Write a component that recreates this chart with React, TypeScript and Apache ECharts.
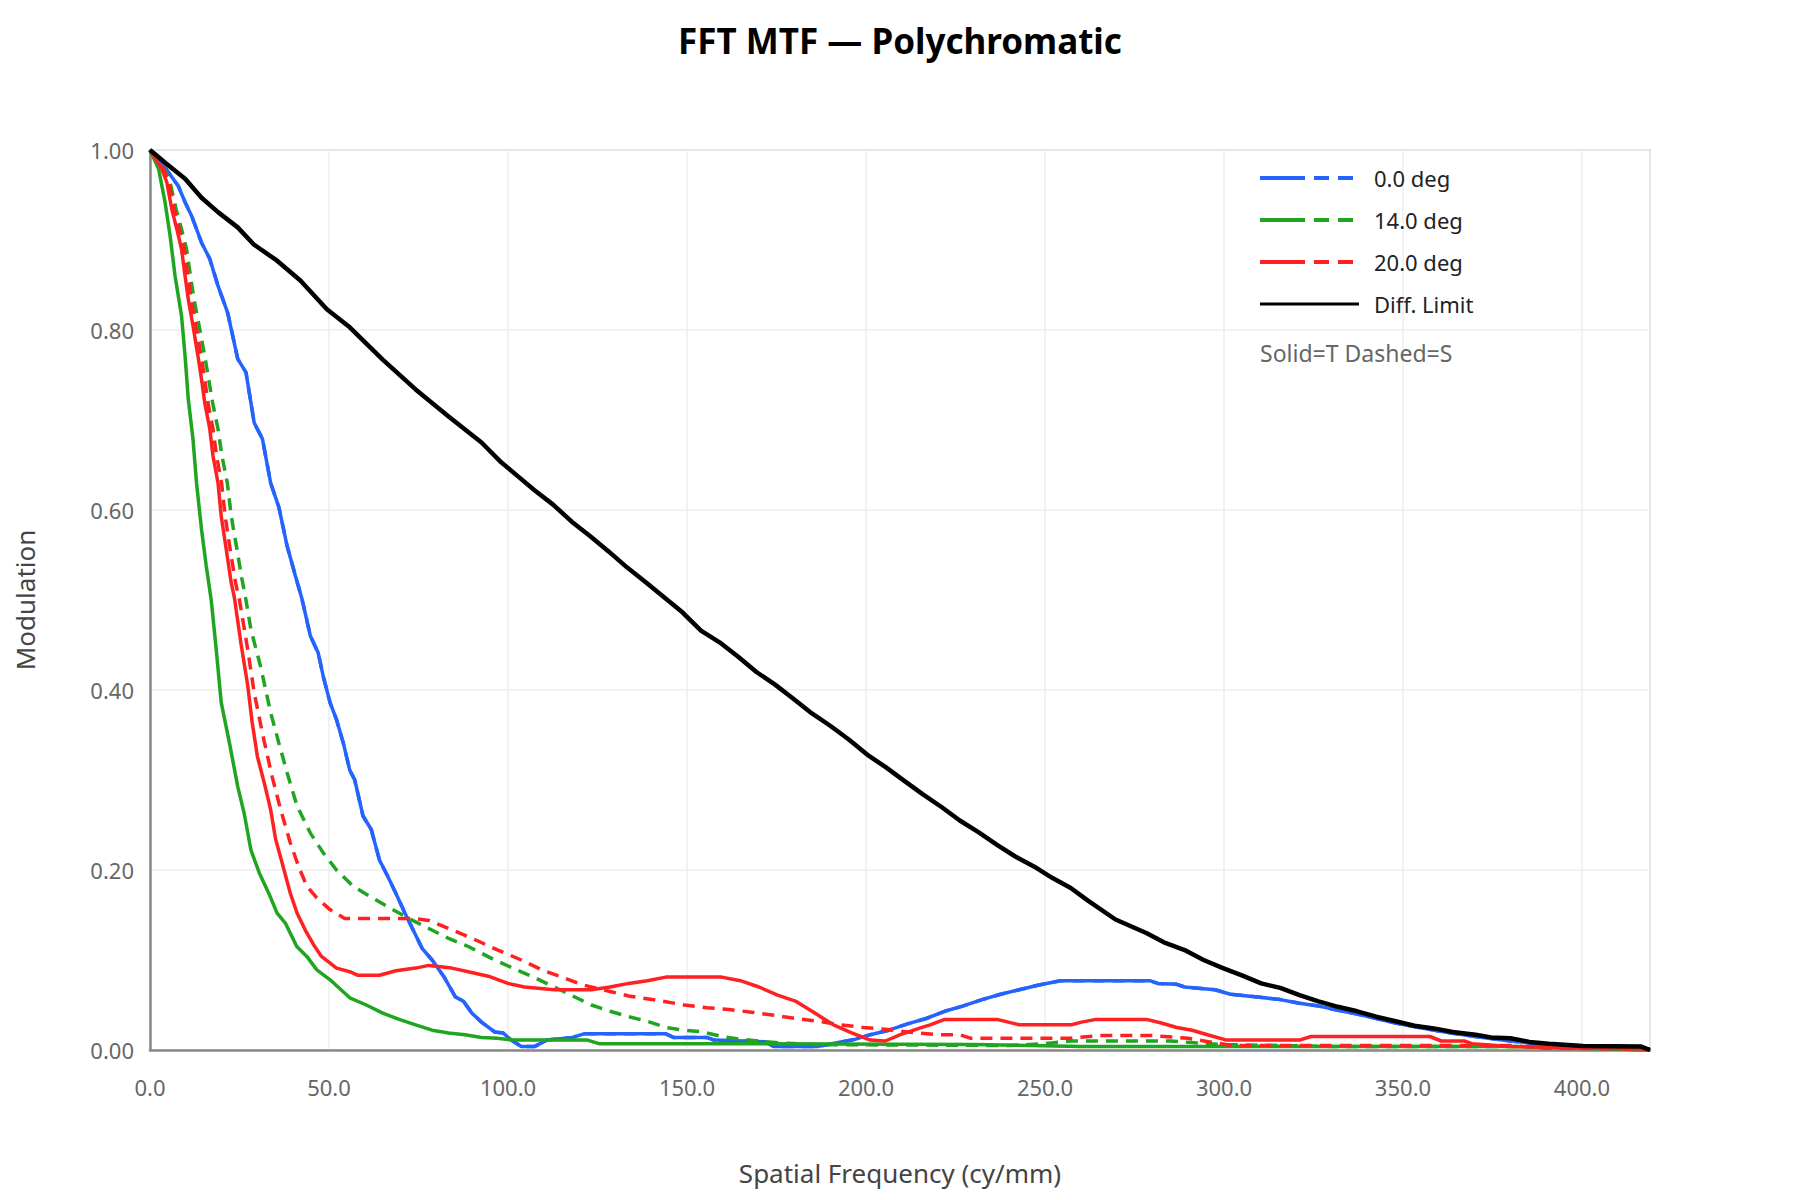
import React, { useEffect, useRef } from "react";
import * as echarts from "echarts";

// MTF samples: [spatial frequency (cy/mm), modulation]
const diffLimit: [number, number][] = [
  [0, 1], [4.5, 0.985], [9.8, 0.968], [14.4, 0.947], [19, 0.931], [24.5, 0.914], [29, 0.895],
  [35.5, 0.877], [42, 0.855], [49.4, 0.823], [55.8, 0.803], [65, 0.767], [74.2, 0.734],
  [83.4, 0.704], [92.6, 0.675], [98.1, 0.653], [102.3, 0.639], [107.4, 0.622], [112.6, 0.606],
  [117.8, 0.587], [122.9, 0.571], [128.1, 0.554], [133.3, 0.536], [138.4, 0.52], [143.6, 0.503],
  [148.8, 0.486], [153.9, 0.466], [159.1, 0.453], [164.3, 0.437], [169.4, 0.42], [174.6, 0.406],
  [179.8, 0.39], [184.9, 0.374], [190.1, 0.36], [195.2, 0.345], [200.4, 0.328], [205.6, 0.314],
  [210.7, 0.299], [215.9, 0.284], [221.1, 0.27], [226.2, 0.255], [231.4, 0.242], [236.6, 0.228],
  [241.7, 0.215], [246.9, 0.204], [252.1, 0.191], [257.2, 0.18], [262, 0.166], [269.7, 0.145],
  [278.3, 0.13], [283.6, 0.119], [289, 0.111], [294.3, 0.1], [299.7, 0.091], [305, 0.083],
  [310.4, 0.074], [315.7, 0.069], [321.1, 0.061], [326.4, 0.054], [331.8, 0.048], [337.2, 0.043],
  [342.5, 0.037], [347.9, 0.032], [353.2, 0.027], [358.6, 0.024], [363.9, 0.02], [370.3, 0.017],
  [374.6, 0.014], [380, 0.013], [385.3, 0.009], [390.7, 0.007], [400.3, 0.0045], [416.4, 0.004],
  [419, 0],
];

const deg0T: [number, number][] = [
  [0, 1], [2.5, 0.99], [5.2, 0.975], [7.9, 0.96], [9.8, 0.942], [11.6, 0.927], [14.4, 0.897],
  [16.7, 0.879], [19, 0.849], [21.7, 0.819], [24.5, 0.768], [26.8, 0.753], [29.1, 0.697],
  [31.4, 0.679], [33.7, 0.63], [36, 0.603], [38.3, 0.56], [40.6, 0.527], [42.4, 0.502],
  [44.8, 0.46], [47, 0.441], [48.4, 0.415], [50.3, 0.386], [52.1, 0.367], [54, 0.341],
  [55.8, 0.311], [57.2, 0.3], [59.5, 0.26], [61.8, 0.245], [64.1, 0.211], [66.4, 0.193],
  [68.7, 0.174], [71, 0.154], [73.3, 0.135], [76, 0.113], [78.8, 0.1], [82, 0.082], [85.3, 0.059],
  [87.6, 0.054], [89.9, 0.041], [92.6, 0.031], [96.3, 0.02], [98.6, 0.019], [100.9, 0.011],
  [103.7, 0.004], [107.5, 0.004], [110.8, 0.011], [118.1, 0.014], [121.2, 0.018], [144.1, 0.018],
  [146.2, 0.014], [155.5, 0.014], [157.6, 0.011], [172, 0.009], [174.2, 0.004], [186.7, 0.004],
  [191.9, 0.008], [197.1, 0.012], [201.2, 0.017], [206.4, 0.022], [211.6, 0.029], [216.8, 0.035],
  [222, 0.043], [227.2, 0.049], [232.4, 0.056], [237.6, 0.062], [242.8, 0.067], [248, 0.072],
  [254.3, 0.077], [279.3, 0.077], [281.5, 0.074], [286.8, 0.073], [289, 0.07], [297.5, 0.067],
  [301.8, 0.062], [309.3, 0.059], [315.7, 0.056], [321.1, 0.052], [326.4, 0.049], [331.8, 0.044],
  [337.2, 0.04], [342.5, 0.035], [347.9, 0.03], [353, 0.026], [360, 0.021], [370, 0.015],
  [380, 0.01], [390, 0.006], [400, 0.003], [410, 0.001], [419, 0],
];
// on axis the sagittal curve is the same as the tangential one
const deg0S = deg0T;

const deg14T: [number, number][] = [
  [0, 1], [2.4, 0.979], [4.2, 0.942], [5.6, 0.905], [7, 0.86], [8.8, 0.816], [9.8, 0.771],
  [10.7, 0.723], [12, 0.679], [13, 0.63], [14.4, 0.578], [15.7, 0.538], [17.1, 0.5], [18.5, 0.445],
  [19.9, 0.386], [22.2, 0.341], [24.5, 0.293], [26.3, 0.263], [28.2, 0.222], [30.5, 0.197],
  [33.2, 0.174], [35.5, 0.152], [37.8, 0.141], [41, 0.115], [43.8, 0.104], [46.6, 0.089],
  [50.3, 0.078], [55.8, 0.058], [60.4, 0.05], [65, 0.041], [69.6, 0.034], [74.2, 0.028],
  [78.8, 0.022], [83.4, 0.019], [88, 0.017], [92.6, 0.014], [97, 0.013], [101.5, 0.011],
  [122.2, 0.011], [125.4, 0.007], [170, 0.007], [230, 0.006], [260, 0.004], [380, 0.004],
  [400, 0.002], [419, 0],
];

const deg14S: [number, number][] = [
  [0, 1], [4, 0.979], [5.6, 0.964], [7.3, 0.934], [8.8, 0.912], [10.2, 0.89], [11.3, 0.86],
  [12.3, 0.834], [13.7, 0.805], [15.3, 0.771], [16.4, 0.745], [17.5, 0.719], [19, 0.69],
  [20.1, 0.66], [21.6, 0.63], [22.7, 0.593], [24.3, 0.556], [25.6, 0.525], [26.8, 0.5],
  [28.2, 0.467], [30.9, 0.426], [33.7, 0.375], [36, 0.341], [38.3, 0.308], [41.1, 0.271],
  [44.8, 0.241], [48.4, 0.219], [52.1, 0.2], [56.7, 0.182], [61.3, 0.171], [66.9, 0.158],
  [72.4, 0.146], [77.9, 0.135], [83.4, 0.124], [88.9, 0.115], [96.3, 0.1], [102.5, 0.089],
  [107.7, 0.08], [112.9, 0.07], [118.1, 0.06], [123.3, 0.05], [128.5, 0.043], [133.7, 0.037],
  [138.9, 0.032], [144.1, 0.025], [149.3, 0.022], [154.5, 0.02], [159.7, 0.015], [164.9, 0.012],
  [170.1, 0.01], [175.3, 0.008], [185, 0.006], [240, 0.005], [250, 0.007], [257, 0.01],
  [285, 0.01], [292, 0.008], [300, 0.006], [330, 0.004], [380, 0.004], [400, 0.002], [419, 0.001],
];

const deg20T: [number, number][] = [
  [0, 1], [3.3, 0.979], [4.7, 0.964], [6.1, 0.934], [7.5, 0.912], [8.8, 0.89], [9.8, 0.86],
  [10.7, 0.834], [12, 0.805], [13.4, 0.771], [14.4, 0.745], [15.3, 0.719], [16.7, 0.69],
  [17.6, 0.66], [19, 0.63], [19.9, 0.593], [21.3, 0.556], [22.7, 0.519], [23.6, 0.502],
  [25.4, 0.452], [27.3, 0.405], [28.5, 0.365], [30, 0.326], [31.9, 0.297], [33.7, 0.267],
  [35.1, 0.234], [36.9, 0.208], [39.2, 0.174], [41.1, 0.152], [43.4, 0.133], [45.7, 0.117],
  [47.9, 0.104], [52.1, 0.091], [55.8, 0.087], [58.1, 0.083], [64.1, 0.083], [68.7, 0.088],
  [74.2, 0.091], [77.9, 0.094], [84.3, 0.091], [88.9, 0.087], [94.5, 0.082], [100, 0.074],
  [104.6, 0.07], [112.9, 0.067], [123.3, 0.067], [128.5, 0.07], [133.7, 0.074], [138.9, 0.077],
  [144.1, 0.081], [159.7, 0.081], [164.9, 0.077], [170.1, 0.07], [175.3, 0.061], [180.5, 0.054],
  [185.7, 0.041], [190.9, 0.028], [196, 0.019], [201.2, 0.011], [205.4, 0.01], [209.6, 0.017],
  [214.8, 0.024], [217.9, 0.028], [222, 0.034], [236.6, 0.034], [242.8, 0.028], [257.4, 0.028],
  [260.2, 0.031], [264.3, 0.034], [278.3, 0.034], [282.5, 0.03], [286.8, 0.025], [291.1, 0.022],
  [295.4, 0.017], [300.7, 0.011], [321.1, 0.011], [324.3, 0.015], [357.5, 0.015], [360.7, 0.01],
  [367.1, 0.01], [369.3, 0.007], [380, 0.004], [396, 0.0026], [419, 0.001],
];

const deg20S: [number, number][] = [
  [0, 1], [3.8, 0.979], [5.3, 0.964], [6.8, 0.934], [8.2, 0.912], [9.6, 0.89], [10.6, 0.86],
  [11.5, 0.834], [12.8, 0.805], [14.3, 0.771], [15.3, 0.745], [16.2, 0.719], [17.6, 0.69],
  [18.6, 0.66], [20, 0.63], [21, 0.593], [22.4, 0.556], [23.9, 0.519], [25, 0.5], [27.3, 0.445],
  [29.1, 0.397], [31.4, 0.352], [34.1, 0.304], [36.5, 0.267], [39.2, 0.23], [41.5, 0.204],
  [43.8, 0.182], [46.6, 0.169], [50.3, 0.156], [54.4, 0.146], [74.2, 0.146], [77.9, 0.144],
  [83.4, 0.135], [88.9, 0.126], [97.2, 0.111], [103.7, 0.1], [109.5, 0.089], [115, 0.081],
  [121.2, 0.072], [128.5, 0.065], [133.7, 0.06], [142, 0.055], [149.3, 0.05], [155.5, 0.047],
  [161.7, 0.045], [168, 0.042], [175.3, 0.038], [180.5, 0.035], [186.7, 0.032], [192.9, 0.028],
  [199.2, 0.025], [205.4, 0.023], [211.6, 0.02], [220, 0.017], [226.2, 0.017], [229.3, 0.013],
  [257, 0.013], [265, 0.016], [280, 0.016], [290, 0.013], [296, 0.009], [302, 0.005], [380, 0.005],
  [390, 0.002], [419, 0.001],
];

const FIELD_NAMES = ["0.0 deg", "14.0 deg", "20.0 deg"];
const FIELD_COLORS = ["#2563ff", "#1fa51f", "#ff2121"];
const TANGENTIAL = [deg0T, deg14T, deg20T];
const SAGITTAL = [deg0S, deg14S, deg20S];

const FONT = "'Noto Sans', 'Open Sans', sans-serif";
const X_MAX = 419;

function legendGraphic() {
  const items: any[] = [];
  FIELD_NAMES.forEach((name, i) => {
    const y = 178 + 42 * i;
    const stroke = { stroke: FIELD_COLORS[i], lineWidth: 4 };
    items.push(
      { type: "line", shape: { x1: 1260, y1: y, x2: 1305, y2: y }, style: stroke },
      { type: "line", shape: { x1: 1314, y1: y, x2: 1329, y2: y }, style: stroke },
      { type: "line", shape: { x1: 1338, y1: y, x2: 1353, y2: y }, style: stroke },
      {
        type: "text", x: 1374, y,
        style: { text: name, fill: "#222", font: `22px ${FONT}`, textVerticalAlign: "middle" },
      }
    );
  });
  const yd = 178 + 42 * 3;
  items.push(
    { type: "line", shape: { x1: 1260, y1: yd, x2: 1359, y2: yd }, style: { stroke: "#000", lineWidth: 3 } },
    {
      type: "text", x: 1374, y: yd,
      style: { text: "Diff. Limit", fill: "#222", font: `22px ${FONT}`, textVerticalAlign: "middle" },
    },
    {
      type: "text", x: 1260, y: 353,
      style: { text: "Solid=T Dashed=S", fill: "#666", font: `23px ${FONT}`, textVerticalAlign: "middle" },
    }
  );
  return items.map((el) => ({ ...el, z: 100 }));
}

export default function App() {
  const chartRef = useRef<HTMLDivElement>(null);

  useEffect(() => {
    if (!chartRef.current) return;
    const chart = echarts.init(chartRef.current, undefined, { renderer: "svg" });

    const series: any[] = [];
    FIELD_NAMES.forEach((name, i) => {
      series.push({
        name,
        type: "line",
        data: SAGITTAL[i],
        showSymbol: false,
        symbol: "none",
        lineStyle: { color: FIELD_COLORS[i], width: 3.5, type: [12, 8] },
        itemStyle: { color: FIELD_COLORS[i] },
      });
      series.push({
        name,
        type: "line",
        data: TANGENTIAL[i],
        showSymbol: false,
        symbol: "none",
        lineStyle: { color: FIELD_COLORS[i], width: 3.5 },
        itemStyle: { color: FIELD_COLORS[i] },
      });
    });
    series.push({
      name: "Diff. Limit",
      type: "line",
      data: diffLimit,
      showSymbol: false,
      symbol: "none",
      lineStyle: { color: "#000", width: 4.5 },
      itemStyle: { color: "#000" },
    });

    chart.setOption({
      animation: false,
      backgroundColor: "#fff",
      textStyle: { fontFamily: FONT },
      title: {
        text: "FFT MTF — Polychromatic",
        left: "center",
        top: 18,
        textStyle: { fontSize: 35, fontWeight: "bold", color: "#000", fontFamily: FONT },
      },
      grid: {
        left: 150,
        right: 150,
        top: 150,
        bottom: 150,
        show: true,
        borderColor: "#d0d0d0",
        borderWidth: 2,
      },
      xAxis: {
        type: "value",
        min: 0,
        max: X_MAX,
        interval: 50,
        name: "Spatial Frequency (cy/mm)",
        nameLocation: "middle",
        nameGap: 110,
        nameTextStyle: { fontSize: 26, color: "#444", fontFamily: FONT },
        axisLine: { show: true, lineStyle: { color: "#888", width: 2.5 } },
        axisTick: { show: false },
        axisLabel: {
          margin: 26,
          fontSize: 22,
          color: "#666",
          fontFamily: FONT,
          showMaxLabel: false,
          formatter: (v: number) => v.toFixed(1),
        },
        splitLine: { show: true, lineStyle: { color: "#eee", width: 1.5 } },
      },
      yAxis: {
        type: "value",
        min: 0,
        max: 1,
        interval: 0.2,
        name: "Modulation",
        nameLocation: "middle",
        nameGap: 112,
        nameTextStyle: { fontSize: 26, color: "#444", fontFamily: FONT },
        axisLine: { show: true, lineStyle: { color: "#888", width: 2.5 } },
        axisTick: { show: false },
        axisLabel: {
          margin: 16,
          fontSize: 22,
          color: "#666",
          fontFamily: FONT,
          formatter: (v: number) => v.toFixed(2),
        },
        splitLine: { show: true, lineStyle: { color: "#eee", width: 1.5 } },
      },
      series,
      graphic: legendGraphic(),
    });

    return () => {
      chart.dispose();
    };
  }, []);

  return (
    <div
      ref={chartRef}
      style={{ position: "fixed", left: 0, top: 0, width: 1800, height: 1200, background: "#fff" }}
    />
  );
}
